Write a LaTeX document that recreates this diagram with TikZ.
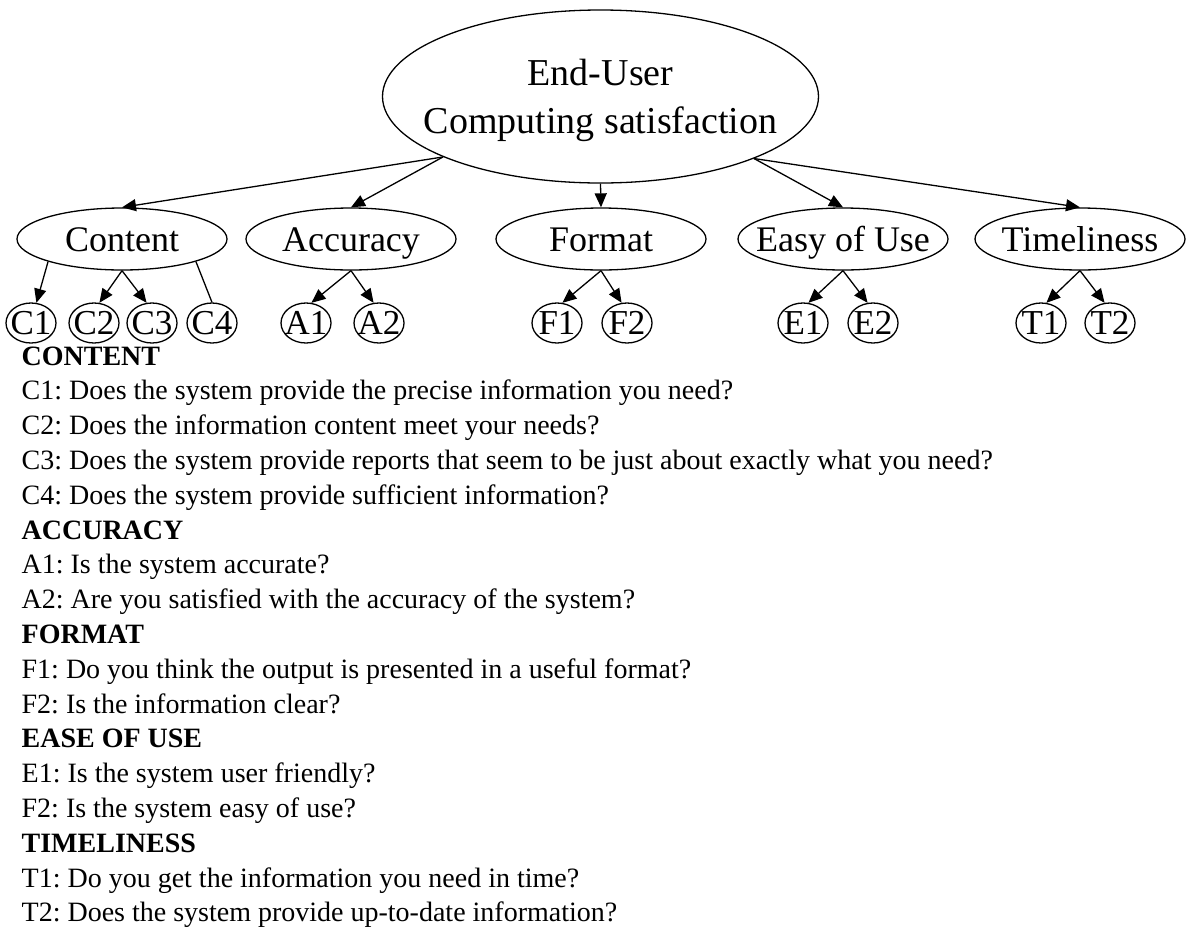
\documentclass[tikz,border=0pt]{standalone}
\usepackage{fontspec}
\setmainfont{Liberation Serif}
\usetikzlibrary{arrows.meta,shapes.geometric}
\frenchspacing
\begin{document}
\begin{tikzpicture}[x=1pt,y=-1pt,
  line width=1.3pt,
  rootnode/.style={draw, ellipse, inner sep=0pt, minimum width=436pt, minimum height=173pt,
    align=center, font=\fontsize{38}{48}\selectfont, text depth=0pt},
  factor/.style={draw, ellipse, inner sep=0pt, minimum width=210pt, minimum height=62pt,
    font=\fontsize{36}{36}\selectfont, text height=24pt, text depth=0pt},
  item/.style={draw, ellipse, inner sep=0pt, minimum width=50pt, minimum height=40pt,
    font=\fontsize{35}{35}\selectfont, text height=23pt, text depth=0pt},
  arr/.style={-{Triangle[length=14pt,width=12pt]}},
  qline/.style={anchor=base west, inner sep=0pt, font=\fontsize{28}{28}\selectfont},
  qhead/.style={anchor=base west, inner sep=0pt, font=\fontsize{28}{28}\selectfont\bfseries},
]
\useasboundingbox (0,0) rectangle (1192,930);

% root construct
\node[rootnode] (top) at (600.5,96.5)
  {\makebox[0pt]{End-User}\\\makebox[0pt]{Computing satisfaction}};

% five dimensions
\node[factor] (content)    at (122,239)  {\makebox[0pt]{Content}};
\node[factor] (accuracy)   at (351,239)  {\makebox[0pt]{Accuracy}};
\node[factor] (format)     at (601,239)  {\makebox[0pt]{Format}};
\node[factor] (easy)       at (843,239)  {\makebox[0pt]{Easy of Use}};
\node[factor] (timeliness) at (1080,239) {\makebox[0pt]{Timeliness}};

% questionnaire items
\node[item] (c1) at (31,323)   {\makebox[0pt]{C1}};
\node[item] (c2) at (94,323)   {\makebox[0pt]{C2}};
\node[item] (c3) at (152,323)  {\makebox[0pt]{C3}};
\node[item] (c4) at (212,323)  {\makebox[0pt]{C4}};
\node[item] (a1) at (306,323)  {\makebox[0pt]{A1}};
\node[item] (a2) at (379,323)  {\makebox[0pt]{A2}};
\node[item] (f1) at (557,323)  {\makebox[0pt]{F1}};
\node[item] (f2) at (627,323)  {\makebox[0pt]{F2}};
\node[item] (e1) at (803,323)  {\makebox[0pt]{E1}};
\node[item] (e2) at (873,323)  {\makebox[0pt]{E2}};
\node[item] (t1) at (1041,323) {\makebox[0pt]{T1}};
\node[item] (t2) at (1110,323) {\makebox[0pt]{T2}};

% root to dimensions
\draw[arr] (top.201.8) -- (content.north);
\draw[arr] (top.201.8) -- (accuracy.north);
\draw[arr] (top.south) -- (format.north);
\draw[arr] (top.338.2) -- (easy.north);
\draw[arr] (top.338.2) -- (timeliness.north);

% dimensions to items
\draw[arr] (content.197) -- (c1.75);
\draw[arr] (content.south) -- (c2.75);
\draw[arr] (content.south) -- (c3.105);
\draw (content.343) -- (c4.north);
\draw[arr] (accuracy.south) -- (a1.75);
\draw[arr] (accuracy.south) -- (a2.105);
\draw[arr] (format.south) -- (f1.75);
\draw[arr] (format.south) -- (f2.105);
\draw[arr] (easy.south) -- (e1.75);
\draw[arr] (easy.south) -- (e2.105);
\draw[arr] (timeliness.south) -- (t1.75);
\draw[arr] (timeliness.south) -- (t2.105);

% item wording
\node[qhead] (q0)  at (21,365.0) {CONTENT};
\node[qline] (q1)  at (21,399.8) {C1: Does the system provide the precise information you need?};
\node[qline] (q2)  at (21,434.6) {C2: Does the information content meet your needs?};
\node[qline] (q3)  at (21,469.4) {C3: Does the system provide reports that seem to be just about exactly what you need?};
\node[qline] (q4)  at (21,504.2) {C4: Does the system provide sufficient information?};
\node[qhead] (q5)  at (21,539.0) {ACCURACY};
\node[qline] (q6)  at (21,573.8) {A1: Is the system accurate?};
\node[qline] (q7)  at (21,608.6) {A2: Are you satisfied with the accuracy of the system?};
\node[qhead] (q8)  at (21,643.4) {FORMAT};
\node[qline] (q9)  at (21,678.2) {F1: Do you think the output is presented in a useful format?};
\node[qline] (q10) at (21,713.0) {F2: Is the information clear?};
\node[qhead] (q11) at (21,747.8) {EASE OF USE};
\node[qline] (q12) at (21,782.6) {E1: Is the system user friendly?};
\node[qline] (q13) at (21,817.4) {F2: Is the system easy of use?};
\node[qhead] (q14) at (21,852.2) {TIMELINESS};
\node[qline] (q15) at (21,887.0) {T1: Do you get the information you need in time?};
\node[qline] (q16) at (21,921.8) {T2: Does the system provide up-to-date information?};
\end{tikzpicture}
\end{document}
